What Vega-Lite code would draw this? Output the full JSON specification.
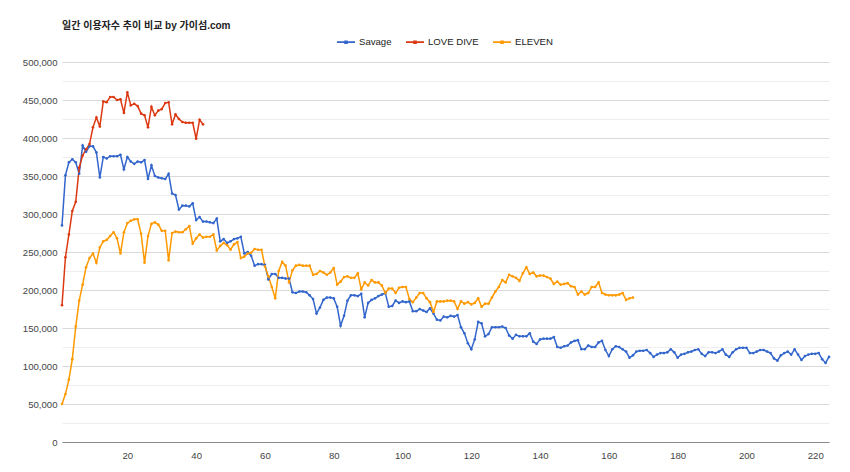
{
"$schema":"https://vega.github.io/schema/vega-lite/v6.json",
"width":767,"height":380,
"autosize":{"type":"none"},
"padding":{"left":62,"top":62,"right":21,"bottom":30},
"background":"white",
"title":{"text":"일간 이용자수 추이 비교 by 가이섬.com","anchor":"start","frame":"group","offset":1,"fontSize":10,"fontWeight":"bold","font":"Liberation Sans, Noto Sans CJK KR","color":"#222222"},
"config":{"view":{"stroke":null},"font":"Liberation Sans"},
"data":{"values":[
{"day":1,"series":"Savage","users":285000},{"day":2,"series":"Savage","users":351000},{"day":3,"series":"Savage","users":368000},{"day":4,"series":"Savage","users":372000},{"day":5,"series":"Savage","users":368000},{"day":6,"series":"Savage","users":353000},{"day":7,"series":"Savage","users":390000},{"day":8,"series":"Savage","users":382000},{"day":9,"series":"Savage","users":389000},{"day":10,"series":"Savage","users":389000},
{"day":11,"series":"Savage","users":381000},{"day":12,"series":"Savage","users":348000},{"day":13,"series":"Savage","users":375000},{"day":14,"series":"Savage","users":373000},{"day":15,"series":"Savage","users":376000},{"day":16,"series":"Savage","users":376000},{"day":17,"series":"Savage","users":376000},{"day":18,"series":"Savage","users":378000},{"day":19,"series":"Savage","users":359000},{"day":20,"series":"Savage","users":375000},
{"day":21,"series":"Savage","users":369000},{"day":22,"series":"Savage","users":366000},{"day":23,"series":"Savage","users":369000},{"day":24,"series":"Savage","users":368000},{"day":25,"series":"Savage","users":371000},{"day":26,"series":"Savage","users":346000},{"day":27,"series":"Savage","users":364000},{"day":28,"series":"Savage","users":350000},{"day":29,"series":"Savage","users":348000},{"day":30,"series":"Savage","users":347000},
{"day":31,"series":"Savage","users":346000},{"day":32,"series":"Savage","users":353000},{"day":33,"series":"Savage","users":327000},{"day":34,"series":"Savage","users":325000},{"day":35,"series":"Savage","users":306000},{"day":36,"series":"Savage","users":311000},{"day":37,"series":"Savage","users":311000},{"day":38,"series":"Savage","users":310000},{"day":39,"series":"Savage","users":314000},{"day":40,"series":"Savage","users":292000},
{"day":41,"series":"Savage","users":296000},{"day":42,"series":"Savage","users":290000},{"day":43,"series":"Savage","users":290000},{"day":44,"series":"Savage","users":289000},{"day":45,"series":"Savage","users":288000},{"day":46,"series":"Savage","users":294000},{"day":47,"series":"Savage","users":264000},{"day":48,"series":"Savage","users":267000},{"day":49,"series":"Savage","users":262000},{"day":50,"series":"Savage","users":264000},
{"day":51,"series":"Savage","users":267000},{"day":52,"series":"Savage","users":268000},{"day":53,"series":"Savage","users":270000},{"day":54,"series":"Savage","users":248000},{"day":55,"series":"Savage","users":250000},{"day":56,"series":"Savage","users":245000},{"day":57,"series":"Savage","users":232000},{"day":58,"series":"Savage","users":234000},{"day":59,"series":"Savage","users":234000},{"day":60,"series":"Savage","users":233000},
{"day":61,"series":"Savage","users":214000},{"day":62,"series":"Savage","users":221000},{"day":63,"series":"Savage","users":221000},{"day":64,"series":"Savage","users":216000},{"day":65,"series":"Savage","users":216000},{"day":66,"series":"Savage","users":215000},{"day":67,"series":"Savage","users":215000},{"day":68,"series":"Savage","users":197000},{"day":69,"series":"Savage","users":196000},{"day":70,"series":"Savage","users":198000},
{"day":71,"series":"Savage","users":198000},{"day":72,"series":"Savage","users":197000},{"day":73,"series":"Savage","users":193000},{"day":74,"series":"Savage","users":188000},{"day":75,"series":"Savage","users":169000},{"day":76,"series":"Savage","users":177000},{"day":77,"series":"Savage","users":187000},{"day":78,"series":"Savage","users":190000},{"day":79,"series":"Savage","users":190000},{"day":80,"series":"Savage","users":189000},
{"day":81,"series":"Savage","users":178000},{"day":82,"series":"Savage","users":153000},{"day":83,"series":"Savage","users":166000},{"day":84,"series":"Savage","users":186000},{"day":85,"series":"Savage","users":193000},{"day":86,"series":"Savage","users":193000},{"day":87,"series":"Savage","users":192000},{"day":88,"series":"Savage","users":195000},{"day":89,"series":"Savage","users":164000},{"day":90,"series":"Savage","users":183000},
{"day":91,"series":"Savage","users":187000},{"day":92,"series":"Savage","users":189000},{"day":93,"series":"Savage","users":192000},{"day":94,"series":"Savage","users":194000},{"day":95,"series":"Savage","users":196000},{"day":96,"series":"Savage","users":178000},{"day":97,"series":"Savage","users":179000},{"day":98,"series":"Savage","users":186000},{"day":99,"series":"Savage","users":183000},{"day":100,"series":"Savage","users":185000},
{"day":101,"series":"Savage","users":184000},{"day":102,"series":"Savage","users":185000},{"day":103,"series":"Savage","users":172000},{"day":104,"series":"Savage","users":172000},{"day":105,"series":"Savage","users":175000},{"day":106,"series":"Savage","users":173000},{"day":107,"series":"Savage","users":171000},{"day":108,"series":"Savage","users":176000},{"day":109,"series":"Savage","users":169000},{"day":110,"series":"Savage","users":161000},
{"day":111,"series":"Savage","users":160000},{"day":112,"series":"Savage","users":165000},{"day":113,"series":"Savage","users":164000},{"day":114,"series":"Savage","users":166000},{"day":115,"series":"Savage","users":165000},{"day":116,"series":"Savage","users":167000},{"day":117,"series":"Savage","users":151000},{"day":118,"series":"Savage","users":143000},{"day":119,"series":"Savage","users":130000},{"day":120,"series":"Savage","users":122000},
{"day":121,"series":"Savage","users":135000},{"day":122,"series":"Savage","users":158000},{"day":123,"series":"Savage","users":156000},{"day":124,"series":"Savage","users":139000},{"day":125,"series":"Savage","users":142000},{"day":126,"series":"Savage","users":151000},{"day":127,"series":"Savage","users":151000},{"day":128,"series":"Savage","users":151000},{"day":129,"series":"Savage","users":152000},{"day":130,"series":"Savage","users":150000},
{"day":131,"series":"Savage","users":140000},{"day":132,"series":"Savage","users":136000},{"day":133,"series":"Savage","users":141000},{"day":134,"series":"Savage","users":139000},{"day":135,"series":"Savage","users":139000},{"day":136,"series":"Savage","users":139000},{"day":137,"series":"Savage","users":143000},{"day":138,"series":"Savage","users":132000},{"day":139,"series":"Savage","users":129000},{"day":140,"series":"Savage","users":135000},
{"day":141,"series":"Savage","users":136000},{"day":142,"series":"Savage","users":136000},{"day":143,"series":"Savage","users":136000},{"day":144,"series":"Savage","users":138000},{"day":145,"series":"Savage","users":125000},{"day":146,"series":"Savage","users":124000},{"day":147,"series":"Savage","users":126000},{"day":148,"series":"Savage","users":127000},{"day":149,"series":"Savage","users":131000},{"day":150,"series":"Savage","users":133000},
{"day":151,"series":"Savage","users":134000},{"day":152,"series":"Savage","users":122000},{"day":153,"series":"Savage","users":122000},{"day":154,"series":"Savage","users":127000},{"day":155,"series":"Savage","users":125000},{"day":156,"series":"Savage","users":125000},{"day":157,"series":"Savage","users":131000},{"day":158,"series":"Savage","users":133000},{"day":159,"series":"Savage","users":121000},{"day":160,"series":"Savage","users":113000},
{"day":161,"series":"Savage","users":122000},{"day":162,"series":"Savage","users":126000},{"day":163,"series":"Savage","users":125000},{"day":164,"series":"Savage","users":122000},{"day":165,"series":"Savage","users":119000},{"day":166,"series":"Savage","users":111000},{"day":167,"series":"Savage","users":114000},{"day":168,"series":"Savage","users":119000},{"day":169,"series":"Savage","users":120000},{"day":170,"series":"Savage","users":120000},
{"day":171,"series":"Savage","users":121000},{"day":172,"series":"Savage","users":117000},{"day":173,"series":"Savage","users":112000},{"day":174,"series":"Savage","users":115000},{"day":175,"series":"Savage","users":117000},{"day":176,"series":"Savage","users":117000},{"day":177,"series":"Savage","users":118000},{"day":178,"series":"Savage","users":122000},{"day":179,"series":"Savage","users":118000},{"day":180,"series":"Savage","users":111000},
{"day":181,"series":"Savage","users":115000},{"day":182,"series":"Savage","users":116000},{"day":183,"series":"Savage","users":118000},{"day":184,"series":"Savage","users":119000},{"day":185,"series":"Savage","users":121000},{"day":186,"series":"Savage","users":122000},{"day":187,"series":"Savage","users":116000},{"day":188,"series":"Savage","users":113000},{"day":189,"series":"Savage","users":118000},{"day":190,"series":"Savage","users":118000},
{"day":191,"series":"Savage","users":117000},{"day":192,"series":"Savage","users":119000},{"day":193,"series":"Savage","users":122000},{"day":194,"series":"Savage","users":115000},{"day":195,"series":"Savage","users":112000},{"day":196,"series":"Savage","users":118000},{"day":197,"series":"Savage","users":122000},{"day":198,"series":"Savage","users":124000},{"day":199,"series":"Savage","users":124000},{"day":200,"series":"Savage","users":124000},
{"day":201,"series":"Savage","users":117000},{"day":202,"series":"Savage","users":117000},{"day":203,"series":"Savage","users":119000},{"day":204,"series":"Savage","users":121000},{"day":205,"series":"Savage","users":121000},{"day":206,"series":"Savage","users":119000},{"day":207,"series":"Savage","users":117000},{"day":208,"series":"Savage","users":110000},{"day":209,"series":"Savage","users":107000},{"day":210,"series":"Savage","users":114000},
{"day":211,"series":"Savage","users":117000},{"day":212,"series":"Savage","users":119000},{"day":213,"series":"Savage","users":115000},{"day":214,"series":"Savage","users":122000},{"day":215,"series":"Savage","users":115000},{"day":216,"series":"Savage","users":108000},{"day":217,"series":"Savage","users":113000},{"day":218,"series":"Savage","users":115000},{"day":219,"series":"Savage","users":116000},{"day":220,"series":"Savage","users":116000},
{"day":221,"series":"Savage","users":117000},{"day":222,"series":"Savage","users":109000},{"day":223,"series":"Savage","users":104000},{"day":224,"series":"Savage","users":112000},
{"day":1,"series":"LOVE DIVE","users":180000},{"day":2,"series":"LOVE DIVE","users":243000},{"day":3,"series":"LOVE DIVE","users":273000},{"day":4,"series":"LOVE DIVE","users":304000},{"day":5,"series":"LOVE DIVE","users":316000},{"day":6,"series":"LOVE DIVE","users":361000},{"day":7,"series":"LOVE DIVE","users":377000},{"day":8,"series":"LOVE DIVE","users":385000},{"day":9,"series":"LOVE DIVE","users":392000},{"day":10,"series":"LOVE DIVE","users":414000},
{"day":11,"series":"LOVE DIVE","users":427000},{"day":12,"series":"LOVE DIVE","users":415000},{"day":13,"series":"LOVE DIVE","users":448000},{"day":14,"series":"LOVE DIVE","users":447000},{"day":15,"series":"LOVE DIVE","users":454000},{"day":16,"series":"LOVE DIVE","users":454000},{"day":17,"series":"LOVE DIVE","users":450000},{"day":18,"series":"LOVE DIVE","users":451000},{"day":19,"series":"LOVE DIVE","users":433000},{"day":20,"series":"LOVE DIVE","users":460000},
{"day":21,"series":"LOVE DIVE","users":443000},{"day":22,"series":"LOVE DIVE","users":445000},{"day":23,"series":"LOVE DIVE","users":442000},{"day":24,"series":"LOVE DIVE","users":432000},{"day":25,"series":"LOVE DIVE","users":430000},{"day":26,"series":"LOVE DIVE","users":414000},{"day":27,"series":"LOVE DIVE","users":441000},{"day":28,"series":"LOVE DIVE","users":430000},{"day":29,"series":"LOVE DIVE","users":436000},{"day":30,"series":"LOVE DIVE","users":438000},
{"day":31,"series":"LOVE DIVE","users":446000},{"day":32,"series":"LOVE DIVE","users":447000},{"day":33,"series":"LOVE DIVE","users":418000},{"day":34,"series":"LOVE DIVE","users":431000},{"day":35,"series":"LOVE DIVE","users":425000},{"day":36,"series":"LOVE DIVE","users":421000},{"day":37,"series":"LOVE DIVE","users":420000},{"day":38,"series":"LOVE DIVE","users":420000},{"day":39,"series":"LOVE DIVE","users":420000},{"day":40,"series":"LOVE DIVE","users":399000},
{"day":41,"series":"LOVE DIVE","users":424000},{"day":42,"series":"LOVE DIVE","users":418000},
{"day":1,"series":"ELEVEN","users":50000},{"day":2,"series":"ELEVEN","users":63000},{"day":3,"series":"ELEVEN","users":82000},{"day":4,"series":"ELEVEN","users":109000},{"day":5,"series":"ELEVEN","users":152000},{"day":6,"series":"ELEVEN","users":186000},{"day":7,"series":"ELEVEN","users":207000},{"day":8,"series":"ELEVEN","users":230000},{"day":9,"series":"ELEVEN","users":242000},{"day":10,"series":"ELEVEN","users":248000},
{"day":11,"series":"ELEVEN","users":236000},{"day":12,"series":"ELEVEN","users":256000},{"day":13,"series":"ELEVEN","users":264000},{"day":14,"series":"ELEVEN","users":266000},{"day":15,"series":"ELEVEN","users":271000},{"day":16,"series":"ELEVEN","users":276000},{"day":17,"series":"ELEVEN","users":268000},{"day":18,"series":"ELEVEN","users":248000},{"day":19,"series":"ELEVEN","users":276000},{"day":20,"series":"ELEVEN","users":288000},
{"day":21,"series":"ELEVEN","users":291000},{"day":22,"series":"ELEVEN","users":293000},{"day":23,"series":"ELEVEN","users":293000},{"day":24,"series":"ELEVEN","users":274000},{"day":25,"series":"ELEVEN","users":236000},{"day":26,"series":"ELEVEN","users":271000},{"day":27,"series":"ELEVEN","users":287000},{"day":28,"series":"ELEVEN","users":289000},{"day":29,"series":"ELEVEN","users":286000},{"day":30,"series":"ELEVEN","users":278000},
{"day":31,"series":"ELEVEN","users":278000},{"day":32,"series":"ELEVEN","users":239000},{"day":33,"series":"ELEVEN","users":275000},{"day":34,"series":"ELEVEN","users":277000},{"day":35,"series":"ELEVEN","users":276000},{"day":36,"series":"ELEVEN","users":276000},{"day":37,"series":"ELEVEN","users":280000},{"day":38,"series":"ELEVEN","users":284000},{"day":39,"series":"ELEVEN","users":261000},{"day":40,"series":"ELEVEN","users":268000},
{"day":41,"series":"ELEVEN","users":273000},{"day":42,"series":"ELEVEN","users":269000},{"day":43,"series":"ELEVEN","users":270000},{"day":44,"series":"ELEVEN","users":270000},{"day":45,"series":"ELEVEN","users":273000},{"day":46,"series":"ELEVEN","users":252000},{"day":47,"series":"ELEVEN","users":258000},{"day":48,"series":"ELEVEN","users":262000},{"day":49,"series":"ELEVEN","users":259000},{"day":50,"series":"ELEVEN","users":253000},
{"day":51,"series":"ELEVEN","users":260000},{"day":52,"series":"ELEVEN","users":263000},{"day":53,"series":"ELEVEN","users":242000},{"day":54,"series":"ELEVEN","users":244000},{"day":55,"series":"ELEVEN","users":248000},{"day":56,"series":"ELEVEN","users":249000},{"day":57,"series":"ELEVEN","users":254000},{"day":58,"series":"ELEVEN","users":253000},{"day":59,"series":"ELEVEN","users":253000},{"day":60,"series":"ELEVEN","users":231000},
{"day":61,"series":"ELEVEN","users":218000},{"day":62,"series":"ELEVEN","users":204000},{"day":63,"series":"ELEVEN","users":189000},{"day":64,"series":"ELEVEN","users":225000},{"day":65,"series":"ELEVEN","users":237000},{"day":66,"series":"ELEVEN","users":232000},{"day":67,"series":"ELEVEN","users":210000},{"day":68,"series":"ELEVEN","users":226000},{"day":69,"series":"ELEVEN","users":232000},{"day":70,"series":"ELEVEN","users":233000},
{"day":71,"series":"ELEVEN","users":232000},{"day":72,"series":"ELEVEN","users":232000},{"day":73,"series":"ELEVEN","users":232000},{"day":74,"series":"ELEVEN","users":220000},{"day":75,"series":"ELEVEN","users":221000},{"day":76,"series":"ELEVEN","users":225000},{"day":77,"series":"ELEVEN","users":223000},{"day":78,"series":"ELEVEN","users":220000},{"day":79,"series":"ELEVEN","users":223000},{"day":80,"series":"ELEVEN","users":229000},
{"day":81,"series":"ELEVEN","users":207000},{"day":82,"series":"ELEVEN","users":211000},{"day":83,"series":"ELEVEN","users":217000},{"day":84,"series":"ELEVEN","users":218000},{"day":85,"series":"ELEVEN","users":216000},{"day":86,"series":"ELEVEN","users":216000},{"day":87,"series":"ELEVEN","users":222000},{"day":88,"series":"ELEVEN","users":201000},{"day":89,"series":"ELEVEN","users":210000},{"day":90,"series":"ELEVEN","users":206000},
{"day":91,"series":"ELEVEN","users":213000},{"day":92,"series":"ELEVEN","users":210000},{"day":93,"series":"ELEVEN","users":210000},{"day":94,"series":"ELEVEN","users":206000},{"day":95,"series":"ELEVEN","users":196000},{"day":96,"series":"ELEVEN","users":202000},{"day":97,"series":"ELEVEN","users":202000},{"day":98,"series":"ELEVEN","users":196000},{"day":99,"series":"ELEVEN","users":203000},{"day":100,"series":"ELEVEN","users":204000},
{"day":101,"series":"ELEVEN","users":204000},{"day":102,"series":"ELEVEN","users":188000},{"day":103,"series":"ELEVEN","users":184000},{"day":104,"series":"ELEVEN","users":190000},{"day":105,"series":"ELEVEN","users":196000},{"day":106,"series":"ELEVEN","users":196000},{"day":107,"series":"ELEVEN","users":189000},{"day":108,"series":"ELEVEN","users":184000},{"day":109,"series":"ELEVEN","users":171000},{"day":110,"series":"ELEVEN","users":185000},
{"day":111,"series":"ELEVEN","users":185000},{"day":112,"series":"ELEVEN","users":185000},{"day":113,"series":"ELEVEN","users":186000},{"day":114,"series":"ELEVEN","users":186000},{"day":115,"series":"ELEVEN","users":185000},{"day":116,"series":"ELEVEN","users":175000},{"day":117,"series":"ELEVEN","users":185000},{"day":118,"series":"ELEVEN","users":182000},{"day":119,"series":"ELEVEN","users":184000},{"day":120,"series":"ELEVEN","users":181000},
{"day":121,"series":"ELEVEN","users":183000},{"day":122,"series":"ELEVEN","users":189000},{"day":123,"series":"ELEVEN","users":178000},{"day":124,"series":"ELEVEN","users":182000},{"day":125,"series":"ELEVEN","users":182000},{"day":126,"series":"ELEVEN","users":190000},{"day":127,"series":"ELEVEN","users":198000},{"day":128,"series":"ELEVEN","users":204000},{"day":129,"series":"ELEVEN","users":213000},{"day":130,"series":"ELEVEN","users":210000},
{"day":131,"series":"ELEVEN","users":220000},{"day":132,"series":"ELEVEN","users":218000},{"day":133,"series":"ELEVEN","users":216000},{"day":134,"series":"ELEVEN","users":212000},{"day":135,"series":"ELEVEN","users":222000},{"day":136,"series":"ELEVEN","users":230000},{"day":137,"series":"ELEVEN","users":221000},{"day":138,"series":"ELEVEN","users":223000},{"day":139,"series":"ELEVEN","users":218000},{"day":140,"series":"ELEVEN","users":219000},
{"day":141,"series":"ELEVEN","users":219000},{"day":142,"series":"ELEVEN","users":217000},{"day":143,"series":"ELEVEN","users":215000},{"day":144,"series":"ELEVEN","users":208000},{"day":145,"series":"ELEVEN","users":211000},{"day":146,"series":"ELEVEN","users":207000},{"day":147,"series":"ELEVEN","users":208000},{"day":148,"series":"ELEVEN","users":209000},{"day":149,"series":"ELEVEN","users":205000},{"day":150,"series":"ELEVEN","users":204000},
{"day":151,"series":"ELEVEN","users":194000},{"day":152,"series":"ELEVEN","users":198000},{"day":153,"series":"ELEVEN","users":194000},{"day":154,"series":"ELEVEN","users":196000},{"day":155,"series":"ELEVEN","users":204000},{"day":156,"series":"ELEVEN","users":204000},{"day":157,"series":"ELEVEN","users":210000},{"day":158,"series":"ELEVEN","users":196000},{"day":159,"series":"ELEVEN","users":194000},{"day":160,"series":"ELEVEN","users":193000},
{"day":161,"series":"ELEVEN","users":193000},{"day":162,"series":"ELEVEN","users":193000},{"day":163,"series":"ELEVEN","users":194000},{"day":164,"series":"ELEVEN","users":196000},{"day":165,"series":"ELEVEN","users":187000},{"day":166,"series":"ELEVEN","users":189000},{"day":167,"series":"ELEVEN","users":190000}
]},
"mark":{"type":"line","strokeWidth":1.5,"point":{"filled":true,"size":7}},
"encoding":{
"x":{"field":"day","type":"quantitative","scale":{"domain":[1,224],"nice":false,"zero":false},
"axis":{"title":null,"values":[20,40,60,80,100,120,140,160,180,200,220],"grid":false,"ticks":false,"domain":true,"domainColor":"#8a8a8a","domainWidth":1,"labelPadding":8,"labelFontSize":9.6,"labelColor":"#444444","labelFont":"Liberation Sans","format":"d"}},
"y":{"field":"users","type":"quantitative","scale":{"domain":[0,500000],"nice":false},
"axis":{"title":null,"values":[0,25000,50000,75000,100000,125000,150000,175000,200000,225000,250000,275000,300000,325000,350000,375000,400000,425000,450000,475000,500000],"format":",d","labelExpr":"datum.value % 50000 == 0 ? datum.label : ''","domain":false,"ticks":false,"labelPadding":5,"labelFontSize":9.6,"labelColor":"#444444","labelFont":"Liberation Sans","labelOverlap":false,"grid":true,"gridColor":{"condition":{"test":"datum.value % 50000 == 0","value":"#d9d9d9"},"value":"#eeeeee"},"gridWidth":1}},
"color":{"field":"series","type":"nominal","sort":["Savage","LOVE DIVE","ELEVEN"],
"scale":{"domain":["Savage","LOVE DIVE","ELEVEN"],"range":["#3366cc","#dc3912","#ff9900"]},
"legend":{"title":null,"orient":"none","legendX":274,"legendY":-30,"direction":"horizontal","padding":0,"symbolType":"M-1,0H1M-0.1,-0.1H0.1V0.1H-0.1Z","symbolSize":324,"symbolStrokeWidth":1.8,"labelFontSize":9.6,"labelFont":"Liberation Sans","labelColor":"#222222","labelOffset":3,"columnPadding":10,
"encode":{"symbols":{"update":{"fill":{"scale":"color","field":"value"},"stroke":{"scale":"color","field":"value"}}}}}},
"order":{"field":"day","type":"quantitative"}
}
}
